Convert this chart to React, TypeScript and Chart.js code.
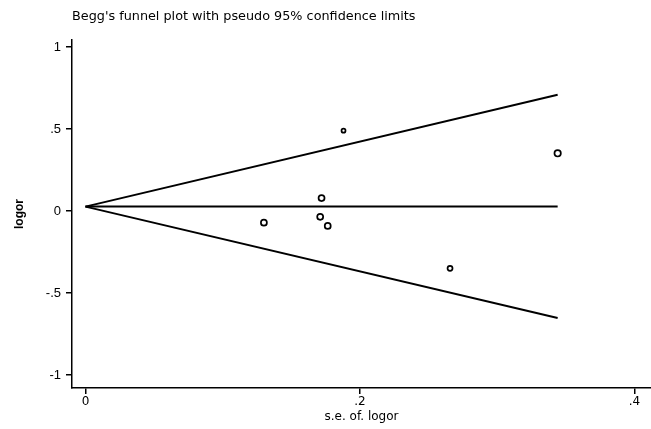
import React, { useEffect, useRef } from "react";
import { Chart, registerables } from "chart.js";

Chart.register(...registerables);

const titleText = "Begg's funnel plot with pseudo 95% confidence limits";
const xTitle = "s.e. of. logor";
const yTitle = "logor";

// study estimates
const studySE = [0.188, 0.172, 0.171, 0.1765, 0.13, 0.344, 0.2656];
const studyLogOR = [0.49, 0.079, -0.035, -0.091, -0.071, 0.352, -0.349];
const studyRadius = [2, 3, 3, 3, 3, 3.2, 2.5];

// funnel lines (endpoints)
const limitSE = [0, 0.344];
const pooledLine = [0.027, 0.027];
const upperLimit = [0.027, 0.709];
const lowerLimit = [0.027, -0.652];

const xTicks = [0, 0.2, 0.4];
const xTickLabels = ["0", ".2", ".4"];
const yTicks = [-1, -0.5, 0, 0.5, 1];
const yTickLabels = ["-1", "-.5", "0", ".5", "1"];

const pts = (xs: number[], ys: number[]) => xs.map((x, i) => ({ x, y: ys[i] }));

const titlePlugin = {
  id: "stataTitle",
  afterDraw(chart: any) {
    const ctx = chart.ctx;
    ctx.save();
    ctx.fillStyle = "#000";
    ctx.font = "12.8px 'DejaVu Sans', sans-serif";
    ctx.textBaseline = "middle";
    ctx.textAlign = "left";
    ctx.fillText(titleText, chart.chartArea.left, 17);
    ctx.restore();
  },
};

export default function App() {
  const ref = useRef<HTMLCanvasElement | null>(null);
  useEffect(() => {
    if (!ref.current) return;
    const lineDs = (data: number[]) => ({
      type: "line" as const,
      data: pts(limitSE, data),
      borderColor: "#000",
      borderWidth: 2,
      pointRadius: 0,
      fill: false,
      tension: 0,
    });
    const chart = new Chart(ref.current, {
      type: "scatter",
      data: {
        datasets: [
          lineDs(pooledLine),
          lineDs(upperLimit),
          lineDs(lowerLimit),
          {
            type: "scatter",
            data: pts(studySE, studyLogOR),
            pointStyle: "circle",
            pointRadius: studyRadius,
            backgroundColor: "#fff",
            borderColor: "#000",
            borderWidth: 1.7,
          } as any,
        ],
      },
      options: {
        animation: false,
        responsive: false,
        maintainAspectRatio: false,
        layout: { autoPadding: false, padding: { top: 40, left: 0, right: 0, bottom: 0 } },
        plugins: {
          legend: { display: false },
          tooltip: { enabled: false },
          title: { display: false },
        },
        scales: {
          x: {
            type: "linear",
            min: -0.0098,
            max: 0.412,
            afterFit: (s: any) => {
              s.height = 41;
              s.paddingLeft = 0;
              s.paddingRight = 0;
            },
            afterBuildTicks: (s: any) => {
              s.ticks = xTicks.map((v) => ({ value: v }));
            },
            ticks: {
              color: "#000",
              font: { family: "'DejaVu Sans', sans-serif", size: 12 },
              padding: 1,
              maxRotation: 0,
              autoSkip: false,
              callback: (v: any) => {
                const i = xTicks.indexOf(Number(v));
                return i >= 0 ? xTickLabels[i] : "";
              },
            },
            grid: {
              drawOnChartArea: false,
              drawTicks: true,
              tickLength: 6,
              color: "#000",
              lineWidth: 1.5,
            },
            border: { display: true, color: "#000", width: 1.5 },
            title: {
              display: true,
              text: xTitle,
              color: "#000",
              font: { family: "'DejaVu Sans', sans-serif", size: 12 },
              padding: { top: 0, bottom: 5 },
            },
          },
          y: {
            type: "linear",
            min: -1.079,
            max: 1.043,
            afterFit: (s: any) => {
              s.width = 72;
              s.paddingTop = 0;
              s.paddingBottom = 0;
            },
            afterBuildTicks: (s: any) => {
              s.ticks = yTicks.map((v) => ({ value: v }));
            },
            ticks: {
              color: "#000",
              font: { family: "'Liberation Sans', Arial, sans-serif", size: 13 },
              padding: 5,
              autoSkip: false,
              callback: (v: any) => {
                const i = yTicks.indexOf(Number(v));
                return i >= 0 ? yTickLabels[i] : "";
              },
            },
            grid: {
              drawOnChartArea: false,
              drawTicks: true,
              tickLength: 6,
              color: "#000",
              lineWidth: 1.5,
            },
            border: { display: true, color: "#000", width: 1.5 },
            title: {
              display: true,
              text: yTitle,
              color: "#000",
              font: { family: "'Liberation Sans', Arial, sans-serif", size: 12, weight: "bold" },
              padding: { top: 12, bottom: 0 },
            },
          },
        },
      },
      plugins: [titlePlugin],
    });
    return () => chart.destroy();
  }, []);
  return (
    <div style={{ position: "fixed", left: 0, top: 0, width: 651, height: 429, background: "#fff" }}>
      <canvas ref={ref} width={651} height={429} style={{ display: "block", width: 651, height: 429 }} />
    </div>
  );
}
